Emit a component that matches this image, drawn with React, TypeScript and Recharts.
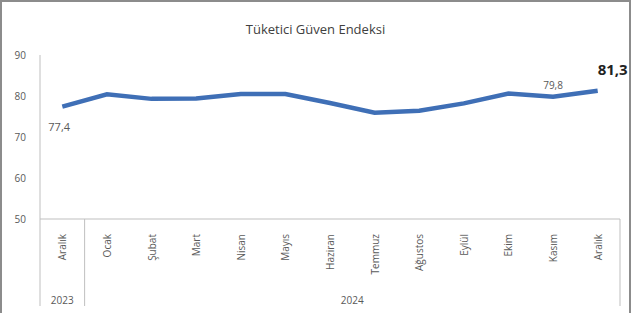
import React from "react";
import { LineChart, Line, XAxis, YAxis, LabelList } from "recharts";

const months = ["Aralık", "Ocak", "Şubat", "Mart", "Nisan", "Mayıs", "Haziran", "Temmuz", "Ağustos", "Eylül", "Ekim", "Kasım", "Aralık"];
const years = ["2023", "2024", "2024", "2024", "2024", "2024", "2024", "2024", "2024", "2024", "2024", "2024", "2024"];
const index = [77.4, 80.4, 79.3, 79.4, 80.5, 80.5, 78.3, 75.9, 76.4, 78.2, 80.6, 79.8, 81.3];
const yTicks = [50, 60, 70, 80, 90];

const data = months.map((m, i) => ({ month: m, year: years[i], value: index[i] }));

const W = 631;
const H = 313;
const Y_W = 40;
const M = { top: 55, right: 11, left: 0, bottom: 0 };
const BAND = (W - Y_W - M.right) / months.length;
const GRAY = "#bfbfbf";
const TEXT = "#595959";
const FONT = "'Open Sans', 'Liberation Sans', sans-serif";

function MonthTick(props: any) {
  const { x, y, payload, index: i } = props;
  const yr = years[i];
  const first = i === 0 || years[i - 1] !== yr;
  const count = years.filter((v) => v === yr).length;
  const left = x - BAND / 2;
  return (
    <g>
      {first && <line x1={left} y1={y - 8} x2={left} y2={y + 79} stroke={GRAY} />}
      {i === months.length - 1 && <line x1={x + BAND / 2} y1={y - 8} x2={x + BAND / 2} y2={y + 79} stroke={GRAY} />}
      <text
        x={0}
        y={0}
        transform={`translate(${x + 4},${y + 7}) rotate(-90)`}
        textAnchor="end"
        fontSize={10}
        fill={TEXT}
        fontFamily={FONT}
      >
        {payload.value}
      </text>
      {first && (
        <text x={left + (count * BAND) / 2} y={y + 77} textAnchor="middle" fontSize={10} fill={TEXT} fontFamily={FONT}>
          {yr}
        </text>
      )}
    </g>
  );
}

function ValueTick(props: any) {
  const { x, y, payload } = props;
  return (
    <text x={x - 6} y={y + 4} textAnchor="end" fontSize={10} fill={TEXT} fontFamily={FONT}>
      {payload.value}
    </text>
  );
}

function PointLabel(props: any) {
  const { x, y, index: i, value } = props;
  const txt = String(value).replace(".", ",");
  if (i === 0)
    return (
      <text x={x - 14} y={y + 24} fontSize={11} fill={TEXT} fontFamily={FONT}>
        {txt}
      </text>
    );
  if (i === 11)
    return (
      <text x={x} y={y - 8} textAnchor="middle" fontSize={10} fill={TEXT} fontFamily={FONT}>
        {txt}
      </text>
    );
  if (i === 12)
    return (
      <text x={x + 15} y={y - 16} textAnchor="middle" fontSize={15} fontWeight="bold" fill="#222" fontFamily={FONT}>
        {txt}
      </text>
    );
  return null;
}

export default function App() {
  return (
    <div
      style={{
        position: "absolute",
        left: 0,
        top: 0,
        width: W,
        height: H,
        boxSizing: "border-box",
        borderLeft: "2px solid #8c8c8c",
        borderTop: "2px solid #8c8c8c",
        borderRight: "2px solid #8c8c8c",
        background: "#fff",
      }}
    >
      <div
        style={{
          position: "absolute",
          top: 18,
          width: "100%",
          textAlign: "center",
          fontSize: 13,
          color: "#404040",
          fontFamily: FONT,
        }}
      >
        Tüketici Güven Endeksi
      </div>
      <div style={{ position: "absolute", left: -2, top: -2 }}>
        <LineChart width={W} height={H} data={data} margin={M}>
          <XAxis
            dataKey="month"
            interval={0}
            height={94}
            padding={{ left: BAND / 2, right: BAND / 2 }}
            axisLine={{ stroke: GRAY }}
            tickLine={false}
            tick={<MonthTick />}
          />
          <YAxis
            domain={[50, 90]}
            ticks={yTicks}
            width={Y_W}
            axisLine={{ stroke: GRAY }}
            tickLine={false}
            tick={<ValueTick />}
          />
          <Line
            type="linear"
            dataKey="value"
            stroke="#3f6fb6"
            strokeWidth={4.5}
            dot={false}
            isAnimationActive={false}
          >
            <LabelList dataKey="value" content={<PointLabel />} />
          </Line>
        </LineChart>
      </div>
    </div>
  );
}
